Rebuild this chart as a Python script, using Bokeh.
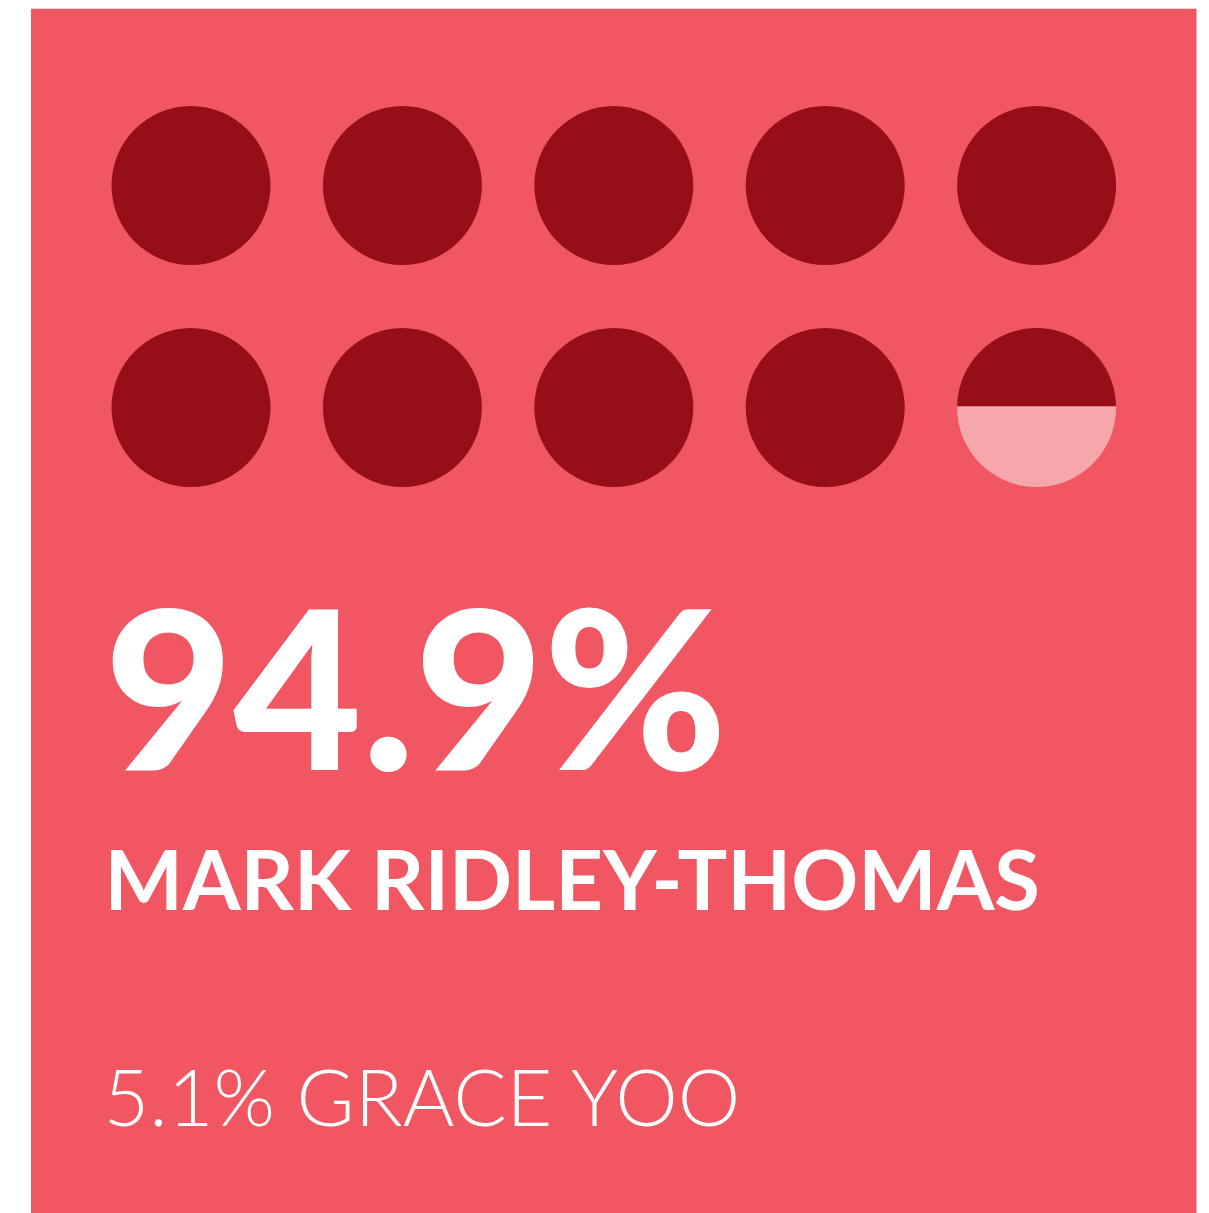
import numpy as np
from bokeh.plotting import figure
from bokeh.models import Range1d
from bokeh.core.properties import value
from bokeh.embed import file_html
from bokeh.resources import INLINE

# ---- data ----
winner_name = "MARK RIDLEY-THOMAS"
winner_pct = 94.9
other_name = "GRACE YOO"
other_pct = 5.1
n_dots = 10
dots_per_row = 5

# ---- layout ----
W, H = 1209, 1213
BG = "#F05762"
DARK = "#960E17"
LIGHT = "#F6A7AB"

p = figure(width=W, height=H, output_backend="svg", toolbar_location=None,
           x_range=Range1d(0, W), y_range=Range1d(H, 0),
           min_border=0, background_fill_color="white", border_fill_color="white")
p.axis.visible = False
p.grid.visible = False
p.outline_line_color = None

# panel
p.quad(left=[30.5], right=[1196], top=[8.3], bottom=[H + 10], fill_color=BG, line_color=None)

# dots
r = 79.5
x0, dx = 190.5, 211.4
y0, dy = 185, 222
filled = winner_pct / 100 * n_dots
xs_full, ys_full = [], []
for i in range(n_dots):
    cx = x0 + (i % dots_per_row) * dx
    cy = y0 + (i // dots_per_row) * dy
    frac = min(max(filled - i, 0), 1)
    if frac >= 1:
        xs_full.append(cx); ys_full.append(cy)
    else:
        p.circle(x=[cx], y=[cy], radius=r, fill_color=LIGHT, line_color=None)
        if frac > 0:
            # cap height h (from top) whose area equals frac of the circle
            lo, hi = 0.0, 2 * r
            for _ in range(60):
                h = (lo + hi) / 2
                a = r * r * np.arccos((r - h) / r) - (r - h) * np.sqrt(max(2 * r * h - h * h, 0))
                if a < frac * np.pi * r * r:
                    lo = h
                else:
                    hi = h
            d = r - h
            th0 = np.arcsin(d / r)
            th = np.linspace(th0, np.pi - th0, 200)
            px = cx + r * np.cos(th)
            py = cy - r * np.sin(th)
            p.patch(x=list(px), y=list(py), fill_color=DARK, line_color=None)
p.circle(x=xs_full, y=ys_full, radius=r, fill_color=DARK, line_color=None)

# texts
p.text(x=[104], y=[683], text=[f"{winner_pct:.1f}%"], text_font=value("Lato Black"),
       text_font_style="bold", text_font_size="222px", text_color="white",
       text_baseline="alphabetic", text_align="left")
p.text(x=[104], y=[877], text=[winner_name], text_font=value("Lato"),
       text_font_style="bold", text_font_size="83px", text_color="white",
       text_baseline="alphabetic", text_align="left")
p.text(x=[103], y=[1095], text=[f"{other_pct:.1f}% {other_name}"], text_font=value("Lato Light"),
       text_font_size="79px", text_color="white",
       text_baseline="alphabetic", text_align="left")

open("out.html", "w").write(file_html(p, INLINE))
